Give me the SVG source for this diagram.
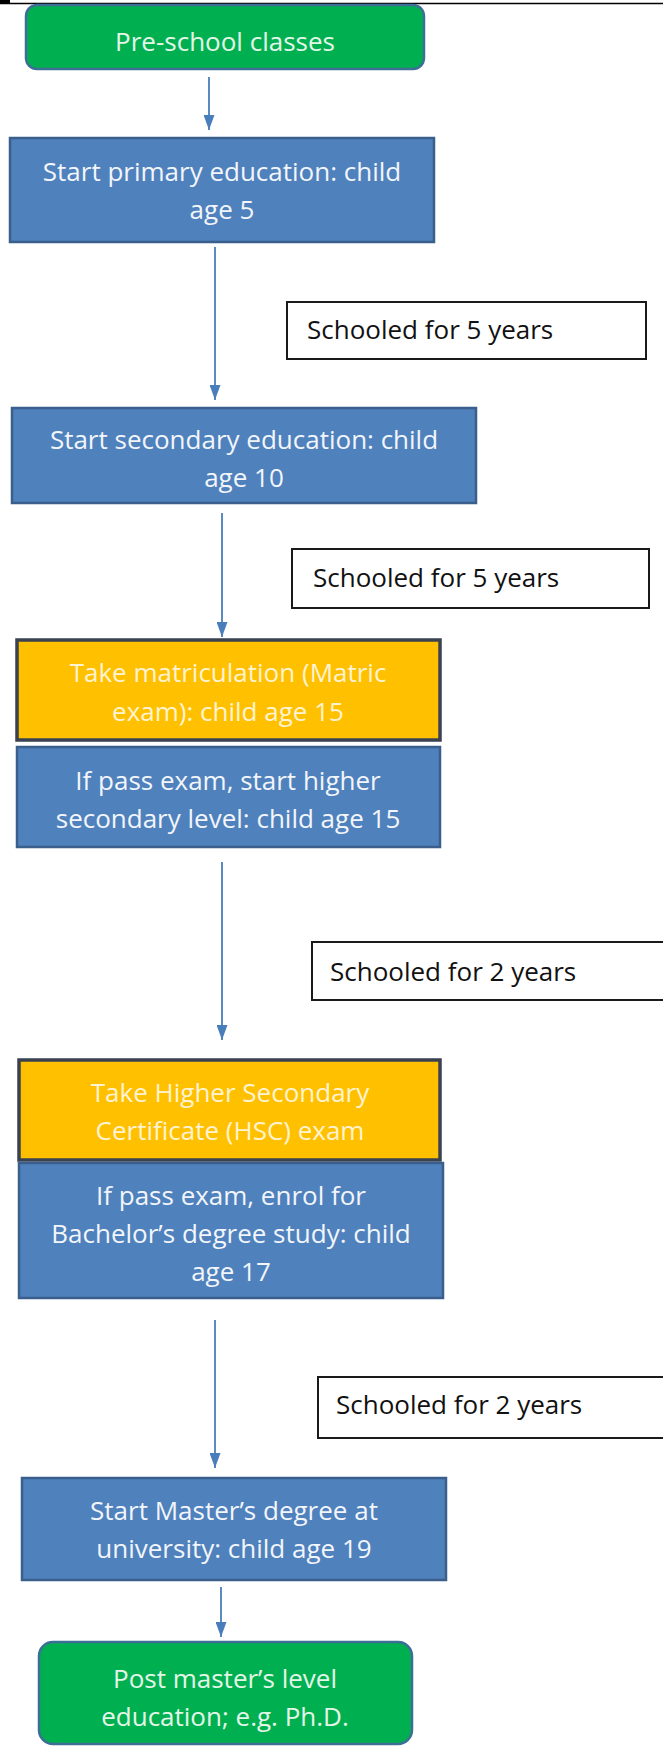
<svg xmlns="http://www.w3.org/2000/svg" width="663" height="1746" viewBox="0 0 663 1746">
<defs>
<style>
.t{font-family:"Open Sans","Liberation Sans",sans-serif;font-size:26px;text-anchor:middle}
.tw{fill:#f2f5fa}
.tg{fill:#e4f6e8}
.ty{fill:#fff3d2}
.green{fill:#00b050;stroke:#3d6f96;stroke-width:2.5}
.blue{fill:#4f81bd;stroke:#3a5f8c;stroke-width:2.5}
.yellow{fill:#ffc000;stroke:#3a4250;stroke-width:3.5}
.lab{fill:#fff;stroke:#1a1a1a;stroke-width:2}
.lt{font-family:"Open Sans","Liberation Sans",sans-serif;font-size:26px;fill:#111}
.conn{stroke:#4a7ebb;stroke-width:1.8;fill:none;marker-end:url(#ah)}
</style>
<marker id="ah" markerUnits="userSpaceOnUse" markerWidth="15" markerHeight="11" viewBox="0 0 15 11" refX="15" refY="5.5" orient="auto">
<path d="M0,0 L15,5.5 L0,11 z" fill="#4a7ebb"/>
</marker>
</defs>
<rect width="663" height="1746" fill="#fff"/>
<g id="topline">
<rect x="0" y="0" width="10" height="4" fill="#000"/>
<line x1="0" y1="3.5" x2="663" y2="3.5" stroke="#000" stroke-width="1.5"/>
</g>
<g id="connectors">
<line class="conn" x1="209" y1="77" x2="209" y2="130"/>
<line class="conn" x1="215" y1="247" x2="215" y2="400"/>
<line class="conn" x1="222" y1="513" x2="222" y2="637"/>
<line class="conn" x1="222" y1="862" x2="222" y2="1040"/>
<line class="conn" x1="215" y1="1320" x2="215" y2="1468"/>
<line class="conn" x1="221" y1="1587" x2="221" y2="1637"/>
</g>
<g id="n1">
<rect class="green" x="26" y="5" width="398" height="64" rx="11"/>
<text class="t tg" x="225" y="51">Pre-school classes</text>
</g>
<g id="n2">
<rect class="blue" x="10" y="138" width="424" height="104"/>
<text class="t tw" x="222" y="181">Start primary education: child</text>
<text class="t tw" x="222" y="219">age 5</text>
</g>
<g id="l1">
<rect class="lab" x="287" y="302" width="359" height="57"/>
<text class="lt" x="307" y="339">Schooled for 5 years</text>
</g>
<g id="n3">
<rect class="blue" x="12" y="408" width="464" height="95"/>
<text class="t tw" x="244" y="449">Start secondary education: child</text>
<text class="t tw" x="244" y="487">age 10</text>
</g>
<g id="l2">
<rect class="lab" x="292" y="549" width="357" height="59"/>
<text class="lt" x="313" y="587">Schooled for 5 years</text>
</g>
<g id="n4">
<rect class="yellow" x="17" y="640" width="423" height="100"/>
<text class="t ty" x="228" y="682">Take matriculation (Matric</text>
<text class="t ty" x="228" y="721">exam): child age 15</text>
</g>
<g id="n5">
<rect class="blue" x="17" y="747" width="423" height="100"/>
<text class="t tw" x="228" y="790">If pass exam, start higher</text>
<text class="t tw" x="228" y="828">secondary level: child age 15</text>
</g>
<g id="l3">
<rect class="lab" x="312" y="942" width="360" height="58"/>
<text class="lt" x="330" y="981">Schooled for 2 years</text>
</g>
<g id="n6">
<rect class="yellow" x="19" y="1060" width="421" height="100"/>
<text class="t ty" x="230" y="1102">Take Higher Secondary</text>
<text class="t ty" x="230" y="1140">Certificate (HSC) exam</text>
</g>
<g id="n7">
<rect class="blue" x="19" y="1163" width="424" height="135"/>
<text class="t tw" x="231" y="1205">If pass exam, enrol for</text>
<text class="t tw" x="231" y="1243">Bachelor’s degree study: child</text>
<text class="t tw" x="231" y="1281">age 17</text>
</g>
<g id="l4">
<rect class="lab" x="318" y="1377" width="360" height="61"/>
<text class="lt" x="336" y="1414">Schooled for 2 years</text>
</g>
<g id="n8">
<rect class="blue" x="22" y="1478" width="424" height="102"/>
<text class="t tw" x="234" y="1520">Start Master’s degree at</text>
<text class="t tw" x="234" y="1558">university: child age 19</text>
</g>
<g id="n9">
<rect class="green" x="39" y="1642" width="373" height="102" rx="14"/>
<text class="t tg" x="225" y="1688">Post master’s level</text>
<text class="t tg" x="225" y="1726">education; e.g. Ph.D.</text>
</g>
</svg>
